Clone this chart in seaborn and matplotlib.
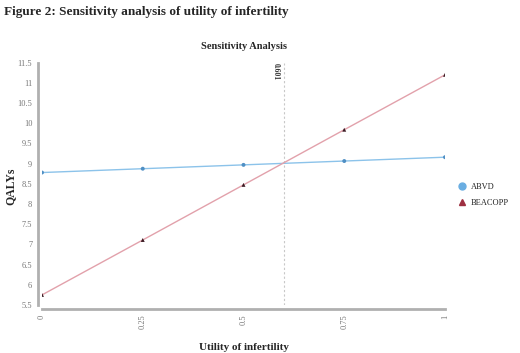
import pandas as pd
import numpy as np
import matplotlib
matplotlib.use("Agg")
import matplotlib.pyplot as plt
import seaborn as sns
from matplotlib.lines import Line2D

# values
utility = [0, 0.25, 0.5, 0.75, 1]
abvd = [8.78, 8.875, 8.97, 9.065, 9.16]
beacopp = [5.75, 7.11, 8.475, 9.84, 11.2]
threshold = 0.601
x_ticks = [0, 0.25, 0.5, 0.75, 1]
x_tick_labels = ["0", "0.25", "0.5", "0.75", "1"]
y_ticks = [5.5, 6, 6.5, 7, 7.5, 8, 8.5, 9, 9.5, 10, 10.5, 11, 11.5]
y_tick_labels = ["5.5", "6", "6.5", "7", "7.5", "8", "8.5", "9", "9.5", "10", "10.5", "11", "11.5"]


def main():
    sns.set_style("white")
    plt.rcParams["font.family"] = ["Liberation Serif", "DejaVu Serif"]

    df = pd.DataFrame({
        "utility": utility * 2,
        "qaly": abvd + beacopp,
        "strategy": ["ABVD"] * len(utility) + ["BEACOPP"] * len(utility),
    })

    line_colors = {"ABVD": "#8cc3ea", "BEACOPP": "#e2a1ab"}
    marker_colors = {"ABVD": "#4f8fc4", "BEACOPP": "#3a1a22"}

    fig = plt.figure(figsize=(5.2, 3.53), dpi=100)
    ax = fig.add_axes([42 / 520, 48 / 353, 403 / 520, 242.3 / 353])

    sns.lineplot(data=df, x="utility", y="qaly", hue="strategy", palette=line_colors,
                 linewidth=1.0, legend=False, ax=ax)
    sns.scatterplot(data=df, x="utility", y="qaly", hue="strategy", style="strategy",
                    markers={"ABVD": "o", "BEACOPP": "^"}, palette=marker_colors,
                    s=8, linewidth=0, legend=False, ax=ax, zorder=3)

    ax.axvline(threshold, color="#c8c8c8", linestyle=(0, (2, 2)), linewidth=0.8, zorder=1)
    ax.text(threshold - 0.012, 11.5, f"{threshold}", rotation=270, ha="right", va="top",
            fontsize=5.5, color="#333333", fontweight="bold")

    # despine with offset resets ticks, so do it before styling them
    sns.despine(ax=ax, top=True, right=True, offset=3)
    for side in ["left", "bottom"]:
        ax.spines[side].set_color("#b0b0b0")
        ax.spines[side].set_linewidth(2.0)

    ax.set_xlim(0, 1)
    ax.set_ylim(5.5, 11.5)
    ax.spines["bottom"].set_bounds(0, 1)
    ax.spines["left"].set_bounds(5.5, 11.5)
    ax.set_xticks(x_ticks)
    ax.set_xticklabels(x_tick_labels, rotation=90, fontsize=6, color="#777777")
    ax.set_yticks(y_ticks)
    ax.set_yticklabels(y_tick_labels, fontsize=6, color="#777777")
    ax.tick_params(length=0, pad=4)

    ax.set_xlabel("Utility of infertility", fontsize=8, fontweight="bold")
    ax.xaxis.set_label_coords(0.5, -0.157)
    ax.set_ylabel("QALYs", fontsize=8.5, fontweight="bold")
    ax.yaxis.set_label_coords(-0.063, 0.49)
    ax.set_title("Sensitivity Analysis", fontsize=7.5, fontweight="bold", pad=10)

    fig.text(4 / 520, 1 - 12 / 353, "Figure 2: Sensitivity analysis of utility of infertility",
             fontsize=9.5, fontweight="bold", ha="left", va="center")

    handles = [
        Line2D([], [], linestyle="none", marker="o", markersize=5, color="#6aaee2"),
        Line2D([], [], linestyle="none", marker="^", markersize=5, color="#9e3041"),
    ]
    fig.legend(handles, ["ABVD", "BEACOPP"], loc="center left",
               bbox_to_anchor=(450 / 520, 1 - 195 / 353), frameon=False,
               fontsize=6, handletextpad=0.6, labelspacing=0.9, handlelength=1.0)

    fig.savefig("out.png", dpi=100)


if __name__ == "__main__":
    main()
